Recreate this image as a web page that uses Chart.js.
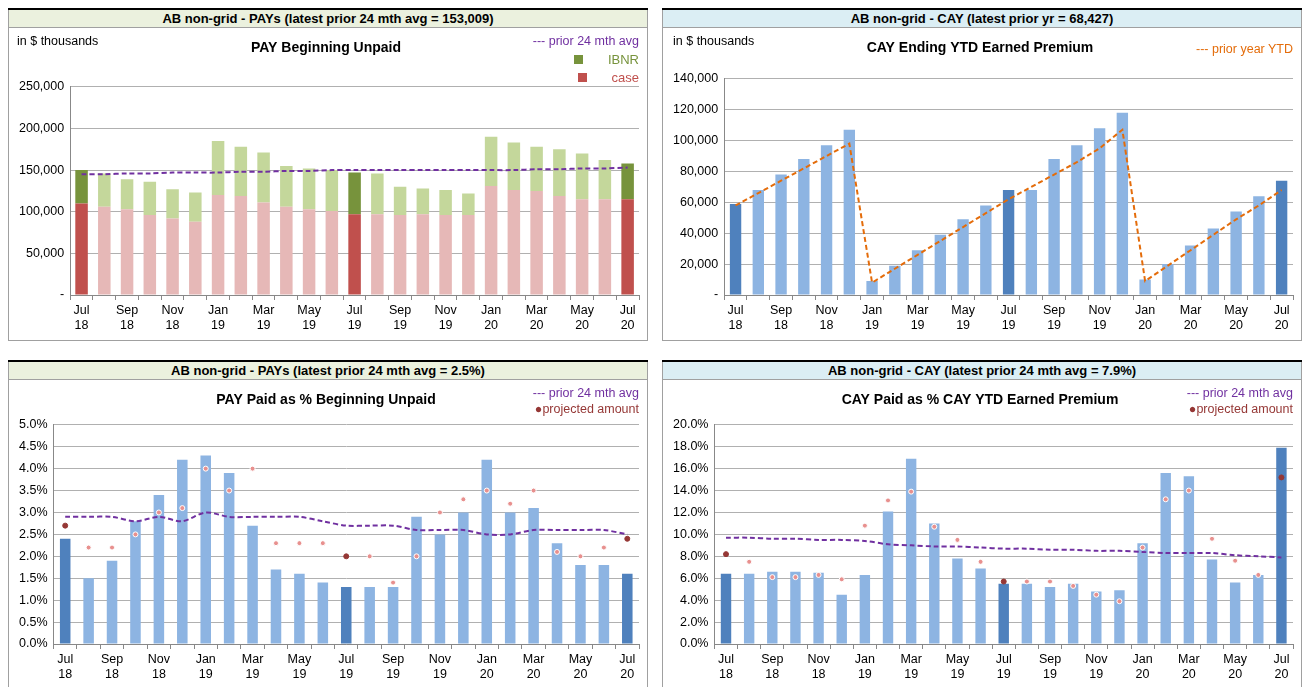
<!DOCTYPE html>
<html><head><meta charset="utf-8">
<script src="https://cdn.jsdelivr.net/npm/chart.js"></script>
<style>
body{margin:0;background:#fff;font-family:'Liberation Sans Narrow','Liberation Sans',sans-serif;}
.panel{position:absolute;width:640px;}
.top{border-top:2px solid #000;}
.hdr{height:17px;line-height:17px;text-align:center;font-weight:bold;font-size:13px;border:1px solid #a0a0a0;border-top:none;}
.g{background:#ebf1de}.b{background:#dbeef4}
.box{position:relative;border:1px solid #a0a0a0;border-top:none;height:312px;}
.box canvas{position:absolute;left:0;top:0}
.lbl{position:absolute;font-size:12.5px;}
</style></head><body>
<div class="panel" style="left:8px;top:8px"><div class="top"></div><div class="hdr g">AB non-grid - PAYs (latest prior 24 mth avg = 153,009)</div>
 <div class="box"><canvas id="c1" width="638" height="312"></canvas>
 <div class="lbl" style="left:8px;top:6px">in $ thousands</div>
 <div class="lbl" style="right:8px;top:6px;color:#7030a0">--- prior 24 mth avg</div>
 <div class="lbl" style="right:8px;top:24px;color:#77933c;font-size:13px"><span style="display:inline-block;width:9px;height:9px;background:#77933c;margin-right:25px"></span>IBNR</div>
 <div class="lbl" style="right:8px;top:42px;color:#c0504d;font-size:13px"><span style="display:inline-block;width:9px;height:9px;background:#c0504d;margin-right:25px"></span>case</div>
 </div></div>
<div class="panel" style="left:662px;top:8px"><div class="top"></div><div class="hdr b">AB non-grid - CAY (latest prior yr = 68,427)</div>
 <div class="box"><canvas id="c2" width="638" height="312"></canvas>
 <div class="lbl" style="left:10px;top:6px">in $ thousands</div>
 <div class="lbl" style="right:8px;top:14px;color:#e46c0a">--- prior year YTD</div>
 </div></div>
<div class="panel" style="left:8px;top:360px"><div class="top"></div><div class="hdr g">AB non-grid - PAYs (latest prior 24 mth avg = 2.5%)</div>
 <div class="box" style="height:309px"><canvas id="c3" width="638" height="309"></canvas>
 <div class="lbl" style="right:8px;top:6px;color:#7030a0">--- prior 24 mth avg</div>
 <div class="lbl" style="right:8px;top:22px;color:#953735">&#9679;projected amount</div>
 </div></div>
<div class="panel" style="left:662px;top:360px"><div class="top"></div><div class="hdr b">AB non-grid - CAY (latest prior 24 mth avg = 7.9%)</div>
 <div class="box" style="height:309px"><canvas id="c4" width="638" height="309"></canvas>
 <div class="lbl" style="right:8px;top:6px;color:#7030a0">--- prior 24 mth avg</div>
 <div class="lbl" style="right:8px;top:22px;color:#953735">&#9679;projected amount</div>
 </div></div>
<script>
const months = ['Jul 18','Aug 18','Sep 18','Oct 18','Nov 18','Dec 18','Jan 19','Feb 19','Mar 19','Apr 19','May 19','Jun 19',
  'Jul 19','Aug 19','Sep 19','Oct 19','Nov 19','Dec 19','Jan 20','Feb 20','Mar 20','Apr 20','May 20','Jun 20','Jul 20'];
const highlight = [0, 12, 24];

const payCase = [110,106,103,96,92,88,120,119,111,106,103,101,97,97,96,97,96,96,131,126,125,119,115,115,115];
const payTotal = [150,146,139,136,127,123,185,178,171,155,152,150,147,146,130,128,126,122,190,183,178,175,170,162,158];
const payAvg = [145,145,146,146,147,147,147,148,148,149,149,150,150,150,150,150,150,150,150,150,151,151,152,152,153];

const cayEP = [59,68,78,88,97,107,9,19,29,39,49,58,68,68,88,97,108,118,10,20,32,43,54,64,74];
const cayPrior = [58,66,74,82,90,98,8,17,26,35,44,53,62,70,78,86,95,107,9,19,29,39,49,58,68];

const payPct = [2.4,1.5,1.9,2.8,3.4,4.2,4.3,3.9,2.7,1.7,1.6,1.4,1.3,1.3,1.3,2.9,2.5,3.0,4.2,3.0,3.1,2.3,1.8,1.8,1.6];
const payProj = [2.7,2.2,2.2,2.5,3.0,3.1,4.0,3.5,4.0,2.3,2.3,2.3,2.0,2.0,1.4,2.0,3.0,3.3,3.5,3.2,3.5,2.1,2.0,2.2,2.4];
const payPctAvg = [2.9,2.9,2.9,2.8,2.9,2.8,3.0,2.9,2.9,2.9,2.9,2.8,2.7,2.7,2.7,2.6,2.6,2.6,2.5,2.5,2.6,2.6,2.6,2.6,2.5];

const cayPct = [6.4,6.4,6.6,6.6,6.5,4.5,6.3,12.1,16.9,11.0,7.8,6.9,5.5,5.5,5.2,5.5,4.8,4.9,9.2,15.6,15.3,7.7,5.6,6.3,17.9];
const cayProj = [8.2,7.5,6.1,6.1,6.3,5.9,10.8,13.1,13.9,10.7,9.5,7.5,5.7,5.7,5.7,5.3,4.5,3.9,8.8,13.2,14.0,9.6,7.6,6.3,15.2];
const cayPctAvg = [9.7,9.7,9.6,9.6,9.5,9.5,9.4,9.1,9.0,8.9,8.9,8.8,8.7,8.7,8.6,8.6,8.5,8.5,8.4,8.3,8.3,8.3,8.1,8.0,7.9];

const FONT = "'Liberation Sans Narrow','Liberation Sans',sans-serif";
Chart.defaults.font.family = FONT;
Chart.defaults.font.size = 12;
Chart.defaults.color = '#000';
Chart.defaults.animation = false;

const hl = (dark, light) => months.map((m, i) => highlight.includes(i) ? dark : light);
const tickLbl = (v, i) => i % 2 ? '' : months[i].split(' ');

function opts(title, yMax, yStep, yFmt, titleGap) {
  return {
    responsive: false,
    layout: {padding: {top: 12, left: 4, right: 8, bottom: 4}},
    plugins: {
      legend: {display: false},
      tooltip: {enabled: false},
      title: {display: true, text: title, font: {size: 14, weight: 'bold'}, padding: {top: 0, bottom: titleGap}}
    },
    scales: {
      x: {
        stacked: false,
        grid: {offset: true, drawOnChartArea: false, color: '#888', tickLength: 5},
        border: {color: '#888'},
        ticks: {autoSkip: false, maxRotation: 0, callback: tickLbl, font: {size: 12.5}}
      },
      y: {
        stacked: false, min: 0, max: yMax,
        grid: {color: '#b0b0b0', drawTicks: false},
        border: {color: '#888'},
        ticks: {stepSize: yStep, callback: yFmt, padding: 6, font: {size: 12.5}}
      }
    }
  };
}
const thous = v => v === 0 ? '-' : (v * 1000).toLocaleString('en-US');
const pct = v => v.toFixed(1) + '%';

// 1 PAY Beginning Unpaid
const o1 = opts('PAY Beginning Unpaid', 250, 50, thous, 30);
o1.scales.x.stacked = true;
o1.scales.y.stacked = true;
new Chart(document.getElementById('c1'), {
  data: {labels: months, datasets: [
    {type: 'line', data: payAvg, borderColor: '#7030a0', borderWidth: 2, borderDash: [5, 3], pointRadius: 0, tension: 0.3, stack: 'l'},
    {type: 'bar', data: payCase, backgroundColor: hl('#c0504d', '#e6b8b7'), barPercentage: 0.55, categoryPercentage: 1, stack: 's'},
    {type: 'bar', data: payTotal.map((t, i) => t - payCase[i]), backgroundColor: hl('#77933c', '#c4d79b'), barPercentage: 0.55, categoryPercentage: 1, stack: 's'}
  ]},
  options: o1
});

// 2 CAY Ending YTD Earned Premium
new Chart(document.getElementById('c2'), {
  data: {labels: months, datasets: [
    {type: 'line', data: cayPrior, borderColor: '#e46c0a', borderWidth: 2, borderDash: [5, 3], pointRadius: 0, tension: 0},
    {type: 'bar', data: cayEP, backgroundColor: hl('#4f81bd', '#8db4e2'), barPercentage: 0.5, categoryPercentage: 1}
  ]},
  options: opts('CAY Ending YTD Earned Premium', 140, 20, thous, 22)
});

function pctChart(id, title, bars, proj, avg, yMax, yStep) {
  new Chart(document.getElementById(id), {
    data: {labels: months, datasets: [
      {type: 'line', data: proj, showLine: false, pointRadius: 2.5, pointBorderWidth: 1,
        pointBackgroundColor: hl('#953735', '#e8908e'), pointBorderColor: hl('#953735', '#ffffff')},
      {type: 'line', data: avg, borderColor: '#7030a0', borderWidth: 2, borderDash: [5, 3], pointRadius: 0, tension: 0.3},
      {type: 'bar', data: bars, backgroundColor: hl('#4f81bd', '#8db4e2'), barPercentage: 0.45, categoryPercentage: 1}
    ]},
    options: opts(title, yMax, yStep, pct, 16)
  });
}
pctChart('c3', 'PAY Paid as % Beginning Unpaid', payPct, payProj, payPctAvg, 5, 0.5);
pctChart('c4', 'CAY Paid as % CAY YTD Earned Premium', cayPct, cayProj, cayPctAvg, 20, 2);
</script>
</body></html>
